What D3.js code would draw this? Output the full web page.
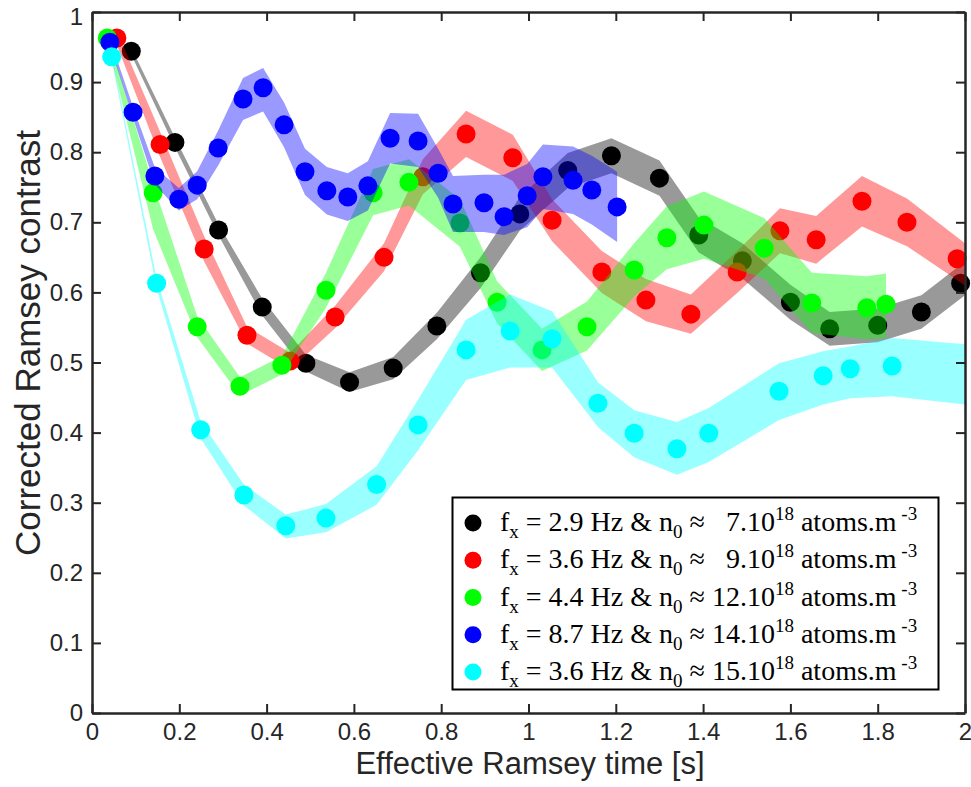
<!DOCTYPE html>
<html>
<head>
<meta charset="utf-8">
<script src="https://cdn.jsdelivr.net/npm/d3@7"></script>
<style>
  html, body { margin: 0; padding: 0; background: #fff; }
  svg { display: block; }
  text { white-space: pre; }
</style>
</head>
<body>
<div id="chart"></div>
<script>
// ---------------- DATA ----------------
const seriesNames = ["black", "red", "green", "blue", "cyan"];
const seriesColors = ["#000000", "#ff0000", "#00ff00", "#0000ff", "#00ffff"];

// measured points (Effective Ramsey time [s], corrected contrast)
const blackT = [0.09,0.19,0.29,0.39,0.49,0.59,0.69,0.79,0.89,0.98,1.09,1.19,1.30,1.39,1.49,1.60,1.69,1.80,1.90,1.99];
const blackV = [0.944,0.814,0.689,0.579,0.499,0.472,0.492,0.552,0.628,0.712,0.774,0.795,0.763,0.682,0.645,0.586,0.548,0.553,0.572,0.613];
const redT = [0.057,0.156,0.257,0.355,0.454,0.557,0.669,0.758,0.857,0.964,1.054,1.168,1.269,1.372,1.478,1.576,1.659,1.764,1.867,1.982];
const redV = [0.963,0.811,0.662,0.539,0.502,0.565,0.650,0.765,0.826,0.792,0.703,0.629,0.589,0.569,0.629,0.688,0.675,0.730,0.700,0.648];
const greenT = [0.035,0.140,0.241,0.339,0.435,0.536,0.644,0.726,0.843,0.928,1.031,1.134,1.242,1.317,1.402,1.540,1.649,1.775,1.819];
const greenV = [0.963,0.742,0.551,0.466,0.496,0.603,0.742,0.757,0.699,0.586,0.518,0.551,0.632,0.678,0.696,0.663,0.585,0.578,0.583];
const blueT = [0.041,0.094,0.144,0.199,0.241,0.289,0.346,0.392,0.440,0.488,0.538,0.586,0.632,0.683,0.747,0.793,0.827,0.898,0.944,0.997,1.033,1.102,1.145,1.203];
const blueV = [0.957,0.857,0.766,0.733,0.753,0.806,0.876,0.892,0.839,0.772,0.745,0.736,0.752,0.820,0.816,0.770,0.726,0.728,0.708,0.738,0.765,0.760,0.746,0.722];
const cyanT = [0.045,0.148,0.249,0.348,0.444,0.536,0.652,0.747,0.857,0.958,1.054,1.159,1.242,1.340,1.413,1.574,1.675,1.737,1.833];
const cyanV = [0.936,0.613,0.404,0.311,0.267,0.278,0.326,0.411,0.518,0.545,0.534,0.442,0.399,0.377,0.399,0.459,0.481,0.491,0.495];

// theory bands (time, lower, upper)
const blackBandT  = [0.09,0.19,0.29,0.39,0.49,0.59,0.69,0.79,0.89,0.98,1.09,1.19,1.30,1.39,1.49,1.60,1.69,1.80,1.90,2.00];
const blackBandLo = [0.939,0.807,0.681,0.567,0.487,0.458,0.476,0.533,0.606,0.688,0.749,0.770,0.738,0.657,0.620,0.561,0.524,0.529,0.548,0.596];
const blackBandHi = [0.949,0.821,0.697,0.591,0.511,0.486,0.508,0.571,0.650,0.736,0.799,0.820,0.788,0.707,0.670,0.611,0.572,0.577,0.596,0.644];
const redBandT  = [0.057,0.156,0.257,0.355,0.454,0.557,0.669,0.758,0.857,0.964,1.054,1.168,1.269,1.372,1.478,1.576,1.659,1.764,1.867,2.000];
const redBandLo = [0.953,0.793,0.644,0.527,0.490,0.549,0.630,0.740,0.793,0.759,0.673,0.599,0.559,0.541,0.599,0.656,0.641,0.694,0.666,0.610];
const redBandHi = [0.973,0.829,0.680,0.551,0.514,0.581,0.670,0.790,0.859,0.825,0.733,0.659,0.619,0.597,0.659,0.720,0.709,0.766,0.734,0.670];
const greenBandT  = [0.035,0.140,0.241,0.339,0.435,0.536,0.644,0.726,0.843,0.928,1.031,1.134,1.242,1.317,1.402,1.540,1.649,1.775,1.819];
const greenBandLo = [0.958,0.690,0.536,0.453,0.483,0.578,0.710,0.724,0.665,0.556,0.488,0.517,0.594,0.633,0.648,0.620,0.542,0.533,0.535];
const greenBandHi = [0.968,0.755,0.566,0.479,0.509,0.628,0.776,0.790,0.733,0.616,0.548,0.587,0.670,0.723,0.744,0.706,0.628,0.623,0.627];
const blueBandT  = [0.041,0.094,0.144,0.199,0.241,0.289,0.346,0.392,0.440,0.488,0.538,0.586,0.632,0.683,0.747,0.793,0.827,0.898,0.944,0.997,1.033,1.102,1.145,1.203];
const blueBandLo = [0.952,0.849,0.754,0.717,0.733,0.781,0.846,0.858,0.807,0.739,0.711,0.702,0.717,0.784,0.779,0.735,0.686,0.686,0.682,0.693,0.719,0.712,0.697,0.672];
const blueBandHi = [0.962,0.865,0.778,0.749,0.773,0.831,0.906,0.920,0.871,0.805,0.779,0.770,0.787,0.856,0.855,0.805,0.766,0.768,0.768,0.783,0.811,0.808,0.795,0.772];
const cyanBandT  = [0.045,0.148,0.249,0.348,0.444,0.536,0.652,0.747,0.857,0.958,1.054,1.159,1.242,1.340,1.413,1.574,1.675,1.737,1.833,2.000];
const cyanBandLo = [0.932,0.606,0.392,0.296,0.249,0.258,0.297,0.375,0.475,0.493,0.493,0.408,0.365,0.340,0.358,0.418,0.440,0.449,0.452,0.440];
const cyanBandHi = [0.940,0.620,0.416,0.326,0.283,0.298,0.352,0.447,0.561,0.597,0.573,0.472,0.432,0.415,0.435,0.499,0.516,0.523,0.535,0.526];

const xTickValues = [0,0.2,0.4,0.6,0.8,1,1.2,1.4,1.6,1.8,2];
const xTickLabels = ["0","0.2","0.4","0.6","0.8","1","1.2","1.4","1.6","1.8","2"];
const yTickValues = [0,0.1,0.2,0.3,0.4,0.5,0.6,0.7,0.8,0.9,1];
const yTickLabels = ["0","0.1","0.2","0.3","0.4","0.5","0.6","0.7","0.8","0.9","1"];

const legendFreq = ["2.9","3.6","4.4","8.7","3.6"];
const legendDensity = ["\u20027","\u20029","12","14","15"];

const xLabel = "Effective Ramsey time [s]";
const yLabel = "Corrected Ramsey contrast";

// ---------------- CHART ----------------
const W = 971, H = 787;
const svg = d3.select("#chart").append("svg").attr("width", W).attr("height", H);

const x = d3.scaleLinear().domain([0, 2]).range([92, 965]);
const y = d3.scaleLinear().domain([0, 1]).range([713, 12]);

const series = [
  {t: blackT, v: blackV, bt: blackBandT, lo: blackBandLo, hi: blackBandHi},
  {t: redT, v: redV, bt: redBandT, lo: redBandLo, hi: redBandHi},
  {t: greenT, v: greenV, bt: greenBandT, lo: greenBandLo, hi: greenBandHi},
  {t: blueT, v: blueV, bt: blueBandT, lo: blueBandLo, hi: blueBandHi},
  {t: cyanT, v: cyanV, bt: cyanBandT, lo: cyanBandLo, hi: cyanBandHi}
];

const plot = svg.append("g");
const area = d3.area()
  .x(d => x(d[0])).y0(d => y(d[1])).y1(d => y(d[2]));

series.forEach((s, i) => {
  const g = plot.append("g").attr("class", "series-" + seriesNames[i]);
  const bandData = s.bt.map((t, k) => [t, s.lo[k], s.hi[k]]);
  g.append("path")
    .attr("d", area(bandData))
    .attr("fill", seriesColors[i])
    .attr("fill-opacity", 0.4)
    .attr("stroke", "none");
  g.selectAll("circle").data(s.t.map((t, k) => [t, s.v[k]]))
    .enter().append("circle")
    .attr("cx", d => x(d[0])).attr("cy", d => y(d[1]))
    .attr("r", 9.5)
    .attr("fill", seriesColors[i]);
});

// axes
const axisColor = "#262626";
const tickFont = "Liberation Sans, Arial, sans-serif";

const gx = svg.append("g").attr("transform", "translate(0,713)")
  .call(d3.axisBottom(x).tickValues(xTickValues)
    .tickFormat((d, i) => xTickLabels[i]).tickSizeInner(-9).tickSizeOuter(0).tickPadding(9));
const gxTop = svg.append("g").attr("transform", "translate(0,12)")
  .call(d3.axisTop(x).tickValues(xTickValues).tickFormat("").tickSizeInner(-9).tickSizeOuter(0));
const gy = svg.append("g").attr("transform", "translate(92,0)")
  .call(d3.axisLeft(y).tickValues(yTickValues)
    .tickFormat((d, i) => yTickLabels[i]).tickSizeInner(-9).tickSizeOuter(0).tickPadding(9));
const gyR = svg.append("g").attr("transform", "translate(965,0)")
  .call(d3.axisRight(y).tickValues(yTickValues).tickFormat("").tickSizeInner(-9).tickSizeOuter(0));

[gx, gxTop, gy, gyR].forEach(g => {
  g.select(".domain").attr("stroke", axisColor).attr("stroke-width", 2.5);
  g.selectAll(".tick line").attr("stroke", axisColor).attr("stroke-width", 2);
  g.selectAll(".tick text").attr("fill", axisColor)
    .style("font-family", tickFont).style("font-size", "24px");
});
gx.selectAll(".tick text").attr("dy", "0.75em");
// keep the top label ("1") inside the picture
gy.selectAll(".tick text").filter(d => d === 1).attr("dy", "0.5em");

svg.append("text")
  .attr("x", 530).attr("y", 774)
  .attr("text-anchor", "middle")
  .style("font-family", tickFont).style("font-size", "31px")
  .attr("fill", axisColor)
  .text(xLabel);

svg.append("text")
  .attr("transform", "translate(40,343) rotate(-90)")
  .attr("text-anchor", "middle")
  .style("font-family", tickFont).style("font-size", "35px")
  .attr("fill", axisColor)
  .text(yLabel);

// legend
const lg = svg.append("g");
lg.append("rect")
  .attr("x", 452.5).attr("y", 497.5).attr("width", 486).attr("height", 192)
  .attr("fill", "#fff").attr("stroke", "#000").attr("stroke-width", 2);

const legendFont = "Liberation Serif, Times New Roman, serif";
const rowY = d3.scaleLinear().domain([0, 4]).range([523, 672]);
seriesColors.forEach((c, i) => {
  const cy = rowY(i);
  lg.append("circle").attr("cx", 473).attr("cy", cy).attr("r", 8.5).attr("fill", c);
  const tx = lg.append("text").attr("x", 500).attr("y", cy + 8)
    .style("font-family", legendFont).style("font-size", "28px").attr("fill", "#000");
  const sub = 19;
  tx.append("tspan").text("f");
  tx.append("tspan").attr("baseline-shift", "-7").style("font-size", sub + "px").text("x");
  tx.append("tspan").text(" = " + legendFreq[i] + " Hz & n");
  tx.append("tspan").attr("baseline-shift", "-7").style("font-size", sub + "px").text("0");
  tx.append("tspan").text(" \u2248 " + legendDensity[i] + ".10");
  tx.append("tspan").attr("baseline-shift", "11").style("font-size", sub + "px").text("18");
  tx.append("tspan").text(" atoms.m");
  tx.append("tspan").attr("baseline-shift", "11").style("font-size", sub + "px").text(" -3");
});
</script>
</body>
</html>
